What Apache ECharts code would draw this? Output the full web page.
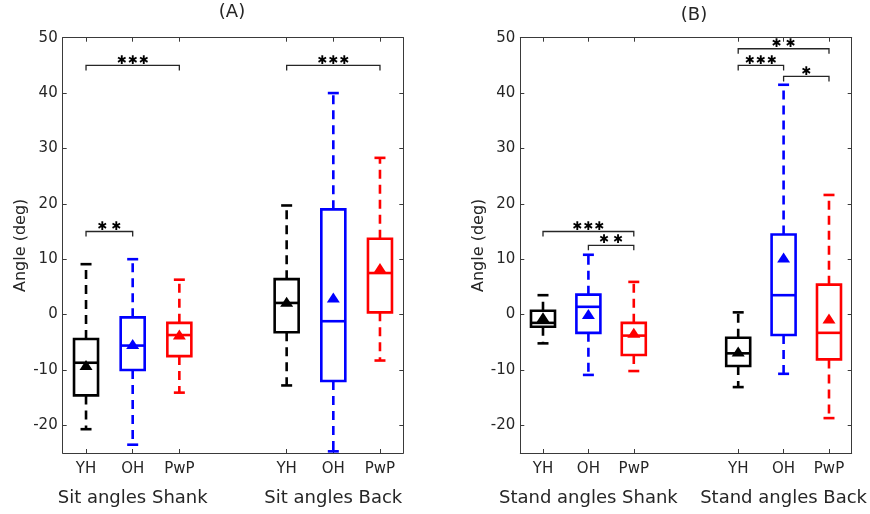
<!DOCTYPE html>
<html>
<head>
<meta charset="utf-8">
<script src="https://cdn.jsdelivr.net/npm/echarts@6/dist/echarts.min.js"></script>
<style>
  html, body { margin: 0; padding: 0; background: #fff; }
  #chart { width: 870px; height: 514px; }
</style>
</head>
<body>
<div id="chart"></div>
<script>
// Subject groups, box positions on the x axis and panel group names
const categories = ['YH', 'OH', 'PwP'];
const positions = [1, 2, 3, 5.3, 6.3, 7.3];
const groupPositions = [2, 6.3];
const groupsSit = ['Sit angles Shank', 'Sit angles Back'];
const groupsStand = ['Stand angles Shank', 'Stand angles Back'];
const yTicks = [-20, -10, 0, 10, 20, 30, 40, 50];

// Sitting: whisker ends, quartiles, medians and means (deg)
const sitLow    = [-20.7, -23.5, -14.1, -12.8, -24.7, -8.3];
const sitQ1     = [-14.6, -10.0, -7.5, -3.2, -12.0, 0.4];
const sitMedian = [-8.7, -5.6, -3.7, 2.1, -1.2, 7.5];
const sitQ3     = [-4.4, -0.5, -1.5, 6.4, 19.0, 13.7];
const sitHigh   = [9.1, 10.0, 6.3, 19.7, 40.0, 28.3];
const sitMean   = [-9.1, -5.3, -3.6, 2.3, 3.1, 8.4];

// Standing: whisker ends, quartiles, medians and means (deg)
const standLow    = [-5.2, -10.9, -10.2, -13.1, -10.7, -18.7];
const standQ1     = [-2.2, -3.3, -7.3, -9.3, -3.7, -8.1];
const standMedian = [-1.5, 1.4, -3.8, -7.0, 3.5, -3.3];
const standQ3     = [0.7, 3.6, -1.5, -4.2, 14.45, 5.4];
const standHigh   = [3.5, 10.8, 5.9, 0.4, 41.5, 21.6];
const standMean   = [-0.5, 0.1, -3.3, -6.65, 10.3, -0.7];

// Significance brackets: start/end box, bracket height, number of stars
const sitSigFrom  = [1, 1, 5.3];
const sitSigTo    = [3, 2, 7.3];
const sitSigY     = [45, 15, 45];
const sitSigStars = [3, 2, 3];

const standSigFrom  = [1, 2, 5.3, 5.3, 6.3];
const standSigTo    = [3, 3, 7.3, 6.3, 7.3];
const standSigY     = [15, 12.5, 48, 45, 43];
const standSigStars = [3, 2, 2, 3, 1];

const palette = ['#000000', '#0000ff', '#ff0000'];
const FONT = 'DejaVu Sans';
const TEXT = '#262626';
const AXIS = '#3a3a3a';

function boxRows(low, q1, med, q3, high, mean) {
  return positions.map((p, i) => [p, low[i], q1[i], med[i], q3[i], high[i], mean[i], i % 3]);
}
function sigRows(from, to, y, stars) {
  return from.map((f, i) => [f, to[i], y[i], stars[i]]);
}

function renderBox(params, api) {
  const x = api.value(0);
  const lo = api.coord([x, api.value(1)]);
  const q1 = api.coord([x, api.value(2)]);
  const md = api.coord([x, api.value(3)]);
  const q3 = api.coord([x, api.value(4)]);
  const hi = api.coord([x, api.value(5)]);
  const mn = api.coord([x, api.value(6)]);
  const color = palette[api.value(7)];
  const cx = lo[0];
  const hw = 12, cap = 5.5, tw = 6.5, th = 5;
  const solid = { stroke: color, lineWidth: 2.6, fill: 'none' };
  const dashed = { stroke: color, lineWidth: 2.6, lineDash: [9, 6], fill: 'none' };
  return {
    type: 'group',
    children: [
      { type: 'line', shape: { x1: cx, y1: q3[1], x2: cx, y2: hi[1] }, style: dashed },
      { type: 'line', shape: { x1: cx, y1: q1[1], x2: cx, y2: lo[1] }, style: dashed },
      { type: 'line', shape: { x1: cx - cap, y1: hi[1], x2: cx + cap, y2: hi[1] }, style: solid },
      { type: 'line', shape: { x1: cx - cap, y1: lo[1], x2: cx + cap, y2: lo[1] }, style: solid },
      { type: 'rect', shape: { x: cx - hw, y: q3[1], width: 2 * hw, height: q1[1] - q3[1] }, style: solid },
      { type: 'line', shape: { x1: cx - hw, y1: md[1], x2: cx + hw, y2: md[1] }, style: solid },
      { type: 'polygon', shape: { points: [[cx, mn[1] - th], [cx - tw, mn[1] + th], [cx + tw, mn[1] + th]] },
        style: { fill: color, stroke: 'none' } }
    ]
  };
}

function renderSig(params, api) {
  const a = api.coord([api.value(0), api.value(2)]);
  const b = api.coord([api.value(1), api.value(2)]);
  const n = api.value(3);
  const drop = 5;
  const spacing = n === 3 ? 11 : 14;
  const mid = (a[0] + b[0]) / 2;
  const children = [
    { type: 'polyline', shape: { points: [[a[0], a[1] + drop], [a[0], a[1]], [b[0], b[1]], [b[0], b[1] + drop]] },
      style: { stroke: '#262626', lineWidth: 1.3, fill: 'none' } }
  ];
  for (let k = 0; k < n; k++) {
    const sx = mid + (k - (n - 1) / 2) * spacing;
    children.push({
      type: 'text', x: sx, y: a[1] - 5,
      style: { text: '\u2731', fill: '#000', font: '12px "' + FONT + '"', align: 'center', verticalAlign: 'middle' }
    });
  }
  return { type: 'group', children };
}

function xAxesFor(gridIndex, groups) {
  return [
    { // box labels along the bottom edge
      type: 'value', gridIndex, min: 0.5, max: 7.8, position: 'bottom',
      axisLine: { show: true, onZero: false, lineStyle: { color: AXIS, width: 1 } },
      axisTick: { show: true, inside: true, length: 4, customValues: positions, lineStyle: { color: AXIS } },
      axisLabel: { show: true, customValues: positions, margin: 9, color: TEXT, fontFamily: FONT, fontSize: 15,
        formatter: v => categories[positions.indexOf(v) % 3] },
      splitLine: { show: false }
    },
    { // top edge of the frame
      type: 'value', gridIndex, min: 0.5, max: 7.8, position: 'top',
      axisLine: { show: true, onZero: false, lineStyle: { color: AXIS, width: 1 } },
      axisTick: { show: true, inside: true, length: 4, customValues: positions, lineStyle: { color: AXIS } },
      axisLabel: { show: false, customValues: positions },
      splitLine: { show: false }
    },
    { // group names under each triplet of boxes
      type: 'value', gridIndex, min: 0.5, max: 7.8, position: 'bottom', offset: 0,
      axisLine: { show: false }, axisTick: { show: false },
      axisLabel: { show: true, customValues: groupPositions, margin: 36, color: TEXT, fontFamily: FONT, fontSize: 18,
        formatter: v => groups[groupPositions.indexOf(v)] },
      splitLine: { show: false }
    }
  ];
}

function yAxesFor(gridIndex, nameGap) {
  return [
    {
      type: 'value', gridIndex, min: -25, max: 50, position: 'left',
      name: 'Angle (deg)', nameLocation: 'middle', nameGap,
      nameTextStyle: { color: TEXT, fontFamily: FONT, fontSize: 16 },
      axisLine: { show: true, onZero: false, lineStyle: { color: AXIS, width: 1 } },
      axisTick: { show: true, inside: true, length: 4, customValues: yTicks, lineStyle: { color: AXIS } },
      axisLabel: { show: true, customValues: yTicks, margin: 5, color: TEXT, fontFamily: FONT, fontSize: 15 },
      splitLine: { show: false }
    },
    {
      type: 'value', gridIndex, min: -25, max: 50, position: 'right',
      axisLine: { show: true, onZero: false, lineStyle: { color: AXIS, width: 1 } },
      axisTick: { show: true, inside: true, length: 4, customValues: yTicks, lineStyle: { color: AXIS } },
      axisLabel: { show: false, customValues: yTicks },
      splitLine: { show: false }
    }
  ];
}

const chart = echarts.init(document.getElementById('chart'), null, { renderer: 'canvas' });
chart.setOption({
  backgroundColor: '#ffffff',
  animation: false,
  textStyle: { fontFamily: FONT },
  graphic: [
    { type: 'text', x: 232, y: 12, style: { text: '(A)', fill: TEXT, font: '18px "' + FONT + '"', align: 'center', verticalAlign: 'middle' } },
    { type: 'text', x: 694, y: 15, style: { text: '(B)', fill: TEXT, font: '18px "' + FONT + '"', align: 'center', verticalAlign: 'middle' } }
  ],
  grid: [
    { left: 62.7, top: 37.7, width: 340.6, height: 415.3 },
    { left: 520.3, top: 37.7, width: 331.4, height: 415.3 }
  ],
  xAxis: [...xAxesFor(0, groupsSit), ...xAxesFor(1, groupsStand)],
  yAxis: [...yAxesFor(0, 30), ...yAxesFor(1, 31)],
  series: [
    { type: 'custom', xAxisIndex: 0, yAxisIndex: 0, renderItem: renderBox, clip: false,
      data: boxRows(sitLow, sitQ1, sitMedian, sitQ3, sitHigh, sitMean) },
    { type: 'custom', xAxisIndex: 3, yAxisIndex: 2, renderItem: renderBox, clip: false,
      data: boxRows(standLow, standQ1, standMedian, standQ3, standHigh, standMean) },
    { type: 'custom', xAxisIndex: 0, yAxisIndex: 0, renderItem: renderSig, clip: false,
      data: sigRows(sitSigFrom, sitSigTo, sitSigY, sitSigStars) },
    { type: 'custom', xAxisIndex: 3, yAxisIndex: 2, renderItem: renderSig, clip: false,
      data: sigRows(standSigFrom, standSigTo, standSigY, standSigStars) }
  ]
});
</script>
</body>
</html>
